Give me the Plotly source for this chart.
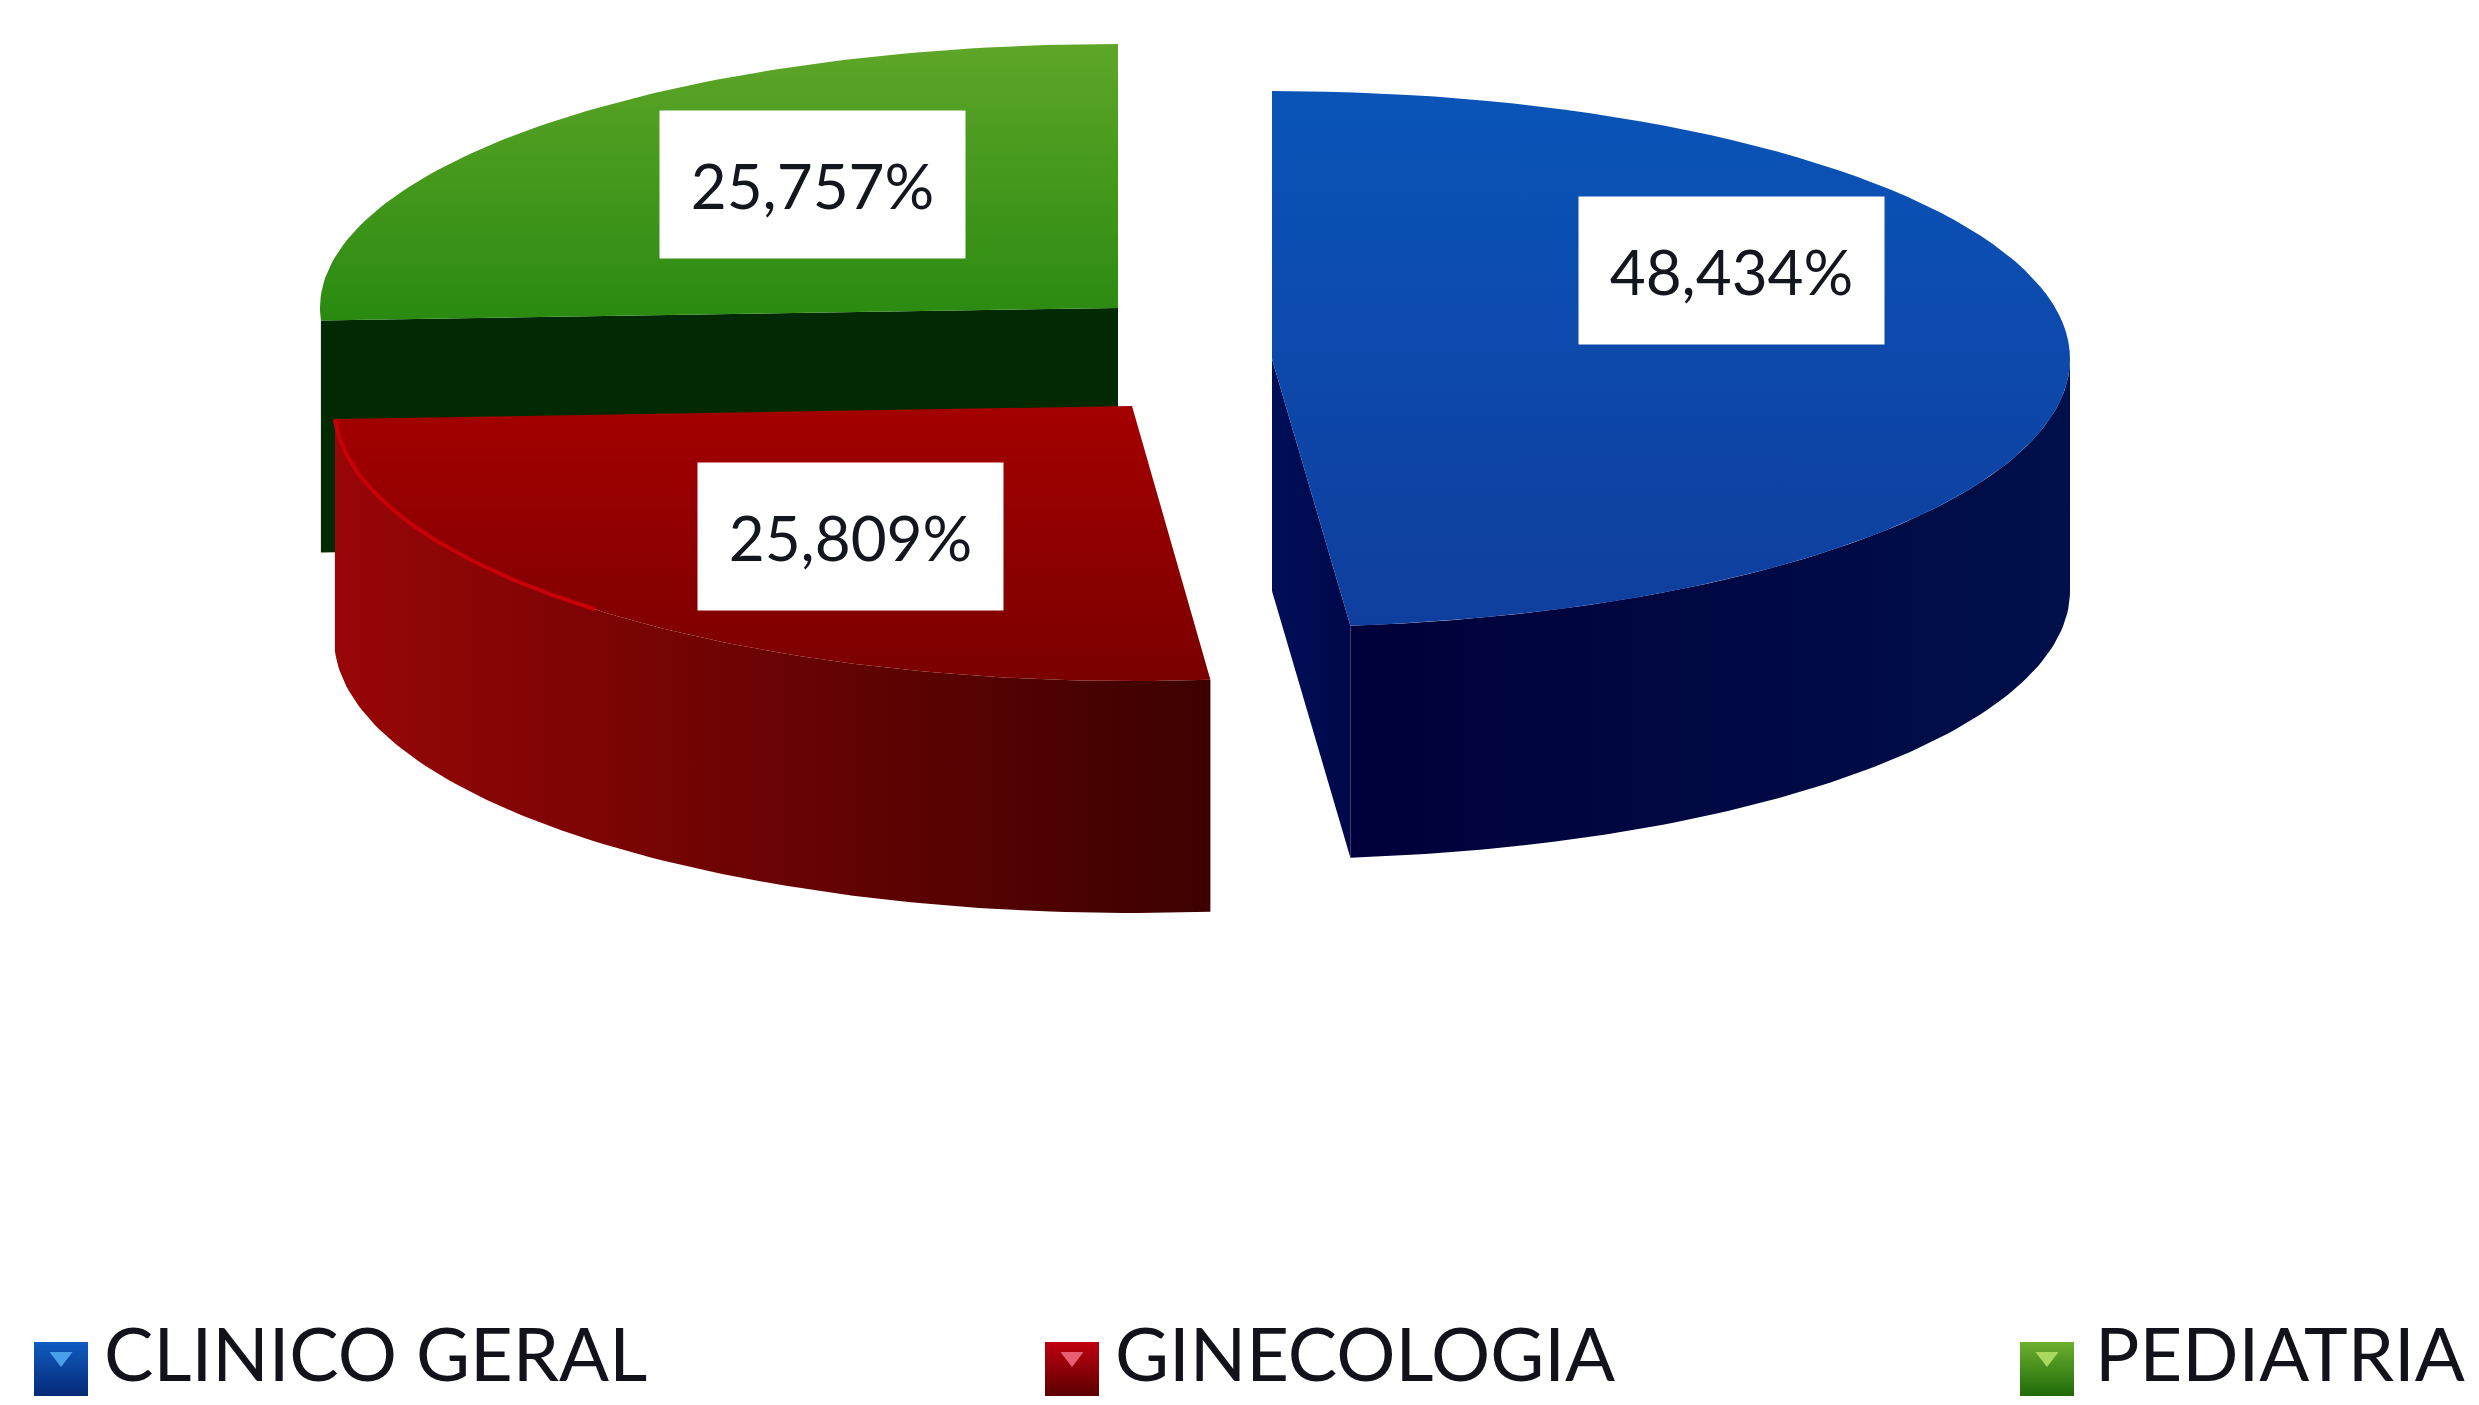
import numpy as np
import plotly.graph_objects as go

categories = ["CLINICO GERAL", "GINECOLOGIA", "PEDIATRIA"]
values = [48.434, 25.809, 25.757]
value_labels = ["48,434%", "25,809%", "25,757%"]

W, H = 2479, 1405
RX = 798
DEPTH = 232
CENTERS = [(1272, 359), (1132, 406), (1118, 308)]
RY = [268, 275, 264]
TOP = [("#0a54b8", "#0f3e9e"), ("#a40000", "#7a0000"), ("#5ea628", "#2a8a10")]
LABEL_BOX = [(1731, 270), (850, 536), (812, 184)]
KEY_X = [61, 1072, 2047]
TEXT_X = [104, 1115, 2095]
KEY_COL = [("#0f5cc0", "#062a78"), ("#c00010", "#5a0000"), ("#6cb030", "#1f6a08")]
TRI_COL = ["#4aa0e8", "#e86070", "#a8d860"]
KEY_Y = 1369
TEXT_Y = 1362

shares = np.array(values) / sum(values) * 360
ends = np.cumsum(shares)
starts = ends - shares


def arc(i, a0, a1, dy=0, n=90):
    t = np.radians(np.linspace(a0, a1, n))
    cx, cy = CENTERS[i]
    return cx + RX * np.sin(t), cy - RY[i] * np.cos(t) + dy


def grad(c0, c1, kind="vertical"):
    return dict(type=kind, colorscale=[[0, c0], [1, c1]])


fig = go.Figure()


def poly(x, y, **kw):
    fig.add_trace(go.Scatter(x=np.append(x, x[0]), y=np.append(y, y[0]), mode="lines",
                             fill="toself", line=dict(width=0), hoverinfo="skip",
                             showlegend=False, **kw))


def top_face(i):
    ax, ay = arc(i, starts[i], ends[i])
    cx, cy = CENTERS[i]
    poly(np.append(ax, cx), np.append(ay, cy), fillgradient=grad(TOP[i][1], TOP[i][0]))


# green: cut wall behind the red slice, then top
i = 2
ax, ay = arc(i, starts[i], starts[i] + 0.1, n=2)
cx, cy = CENTERS[i]
poly(np.array([ax[0], cx, cx, ax[0]]), np.array([ay[0], cy, cy + DEPTH, ay[0] + DEPTH]),
     fillcolor="#012a02")
top_face(i)

# blue: outer wall, cut wall, top
i = 0
ax, ay = arc(i, 90, ends[i])
poly(np.concatenate([ax, ax[::-1]]), np.concatenate([ay, (ay + DEPTH)[::-1]]),
     fillgradient=grad("#00003a", "#00104a", "horizontal"))
cx, cy = CENTERS[i]
poly(np.array([cx, ax[-1], ax[-1], cx]), np.array([cy, ay[-1], ay[-1] + DEPTH, cy + DEPTH]),
     fillgradient=grad("#000f58", "#00084a", "horizontal"))
top_face(i)

# red: outer wall, top, highlight
i = 1
ax, ay = arc(i, starts[i], ends[i])
poly(np.concatenate([ax, ax[::-1]]), np.concatenate([ay, (ay + DEPTH)[::-1]]),
     fillgradient=grad("#980606", "#3c0000", "horizontal"))
top_face(i)
hx, hy = arc(i, ends[i] - 45, ends[i])
fig.add_trace(go.Scatter(x=hx, y=hy, mode="lines", line=dict(color="#c80008", width=4),
                         hoverinfo="skip", showlegend=False))

# legend keys and names
for k, name in enumerate(categories):
    fig.add_trace(go.Scatter(x=[KEY_X[k]], y=[KEY_Y], mode="markers",
                             marker=dict(symbol="square", size=54, color=KEY_COL[k][0], line=dict(width=0),
                                         gradient=dict(type="vertical", color=KEY_COL[k][1])),
                             hoverinfo="skip", showlegend=False, cliponaxis=False))
    fig.add_trace(go.Scatter(x=[KEY_X[k]], y=[KEY_Y - 12], mode="markers",
                             marker=dict(symbol="triangle-down", size=20, color=TRI_COL[k], line=dict(width=0)),
                             hoverinfo="skip", showlegend=False))
    fig.add_trace(go.Scatter(x=[TEXT_X[k]], y=[TEXT_Y], mode="text", text=[name],
                             textposition="middle right",
                             textfont=dict(family="Lato", size=74, color="#11121a"),
                             hoverinfo="skip", showlegend=False, cliponaxis=False))

# percentage boxes
for k, lab in enumerate(value_labels):
    fig.add_annotation(x=LABEL_BOX[k][0], y=LABEL_BOX[k][1], text=lab, showarrow=False,
                       width=305, height=147, bgcolor="#ffffff", borderpad=0, align="center", valign="middle",
                       font=dict(family="Lato", size=62, color="#14161e"))

fig.update_layout(width=W, height=H, margin=dict(l=0, r=0, t=0, b=0), paper_bgcolor="#ffffff",
                  plot_bgcolor="#ffffff", showlegend=False,
                  xaxis=dict(range=[0, W], visible=False, fixedrange=True),
                  yaxis=dict(range=[H, 0], visible=False, fixedrange=True))
fig.write_html("out.html", post_script="document.body.style.margin='0';",
               config=dict(displayModeBar=False))
